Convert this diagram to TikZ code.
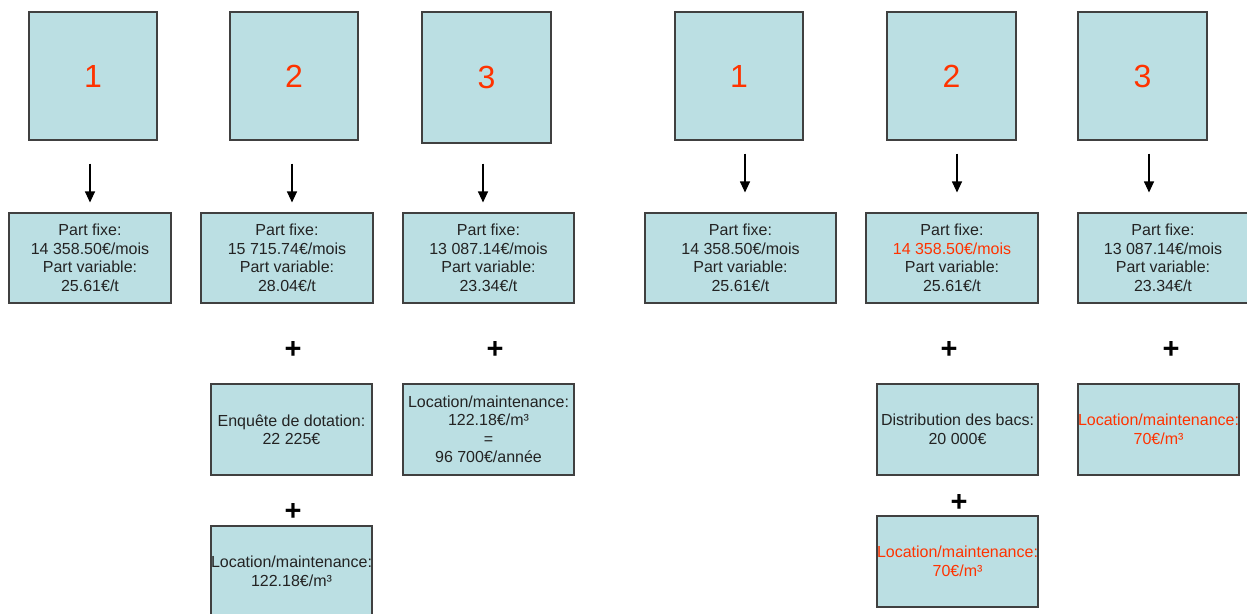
\documentclass[tikz,border=0pt]{standalone}
\usepackage{fontspec}
\setmainfont{Liberation Sans}
\usetikzlibrary{arrows.meta}
\definecolor{boxfill}{RGB}{187,223,227}
\definecolor{boxline}{RGB}{64,64,64}
\definecolor{txtred}{RGB}{255,51,0}
\definecolor{txtgray}{RGB}{35,35,35}

\begin{document}
\begin{tikzpicture}[
    x=1pt, y=-1pt,
    scheme/.style={rectangle, draw=boxline, fill=boxfill, line width=1.1pt, minimum width=128pt, minimum height=128pt, inner sep=0pt, font=\fontsize{32}{36}\selectfont, text=txtred},
    cost/.style={rectangle, draw=boxline, fill=boxfill, line width=1.1pt, minimum height=91pt, inner sep=0pt, align=center, font=\fontsize{16}{18.5}\selectfont, text=txtgray},
    plussign/.style={font=\fontsize{29}{29}\selectfont\bfseries, inner sep=0pt},
    >={Triangle[width=10pt,length=11pt]}
]
\useasboundingbox (0,0) rectangle (1247,613);

% Scenario squares
\node[scheme] (sq1) at (93,76) {1};
\node[scheme] (sq2) at (294,76) {2};
\node[scheme, minimum width=129pt, minimum height=131pt] (sq3) at (486.5,77.5) {3};
\node[scheme] (sq4) at (739,76) {1};
\node[scheme, minimum width=129pt] (sq5) at (951.5,76) {2};
\node[scheme, minimum width=129pt] (sq6) at (1142.5,76) {3};

% Fixed and variable parts
\node[cost, minimum width=162pt, minimum height=90pt] (info1) at (90,258)
    {Part fixe:\\14 358.50€/mois\\Part variable:\\25.61€/t};
\node[cost, minimum width=172pt, minimum height=90pt] (info2) at (287,258)
    {Part fixe:\\15 715.74€/mois\\Part variable:\\28.04€/t};
\node[cost, minimum width=171pt, minimum height=90pt] (info3) at (488.5,258)
    {Part fixe:\\13 087.14€/mois\\Part variable:\\23.34€/t};
\node[cost, minimum width=191pt, minimum height=90pt] (info4) at (740.5,258)
    {Part fixe:\\14 358.50€/mois\\Part variable:\\25.61€/t};
\node[cost, minimum width=172pt, minimum height=90pt] (info5) at (952,258)
    {Part fixe:\\\textcolor{txtred}{14 358.50€/mois}\\Part variable:\\25.61€/t};
\node[cost, minimum width=170pt, minimum height=90pt] (info6) at (1163,258)
    {Part fixe:\\13 087.14€/mois\\Part variable:\\23.34€/t};

% Arrows
\foreach \n/\dx/\a/\b in {1/-3/23/10, 2/-2/23/10, 3/-3.5/20/10, 4/6/13/20, 5/5.5/13/20, 6/6.5/13/20} {
    \draw[->, line width=1.1pt, shorten <=\a pt, shorten >=\b pt]
        ([xshift=\dx pt]sq\n.south) -- ([xshift=\dx pt]sq\n.south |- info\n.north);
}

% Plus signs
\node[plussign] (p2) at (293,350) {+};
\node[plussign] (p3) at (495,350) {+};
\node[plussign] (p5) at (949,350) {+};
\node[plussign] (p6) at (1171,350) {+};
\node[plussign] (q2) at (293,512) {+};
\node[plussign] (q5) at (959,503) {+};

% Extra costs
\node[cost, minimum width=161pt] (ext2) at (291.5,429.5)
    {Enquête de dotation:\\22 225€};
\node[cost, minimum width=171pt] (ext3) at (488.5,429.5)
    {Location/maintenance:\\122.18€/m³\\=\\96 700€/année};
\node[cost, minimum width=161pt] (ext5) at (957.5,429.5)
    {Distribution des bacs:\\20 000€};
\node[cost, minimum width=161pt, text=txtred] (ext6) at (1158.5,429.5)
    {Location/maintenance:\\70€/m³};

% Rental
\node[cost, minimum width=161pt] (loc2) at (291.5,571.5)
    {Location/maintenance:\\122.18€/m³};
\node[cost, minimum width=161pt, text=txtred] (loc5) at (957.5,561.5)
    {Location/maintenance:\\70€/m³};
\end{tikzpicture}
\end{document}
